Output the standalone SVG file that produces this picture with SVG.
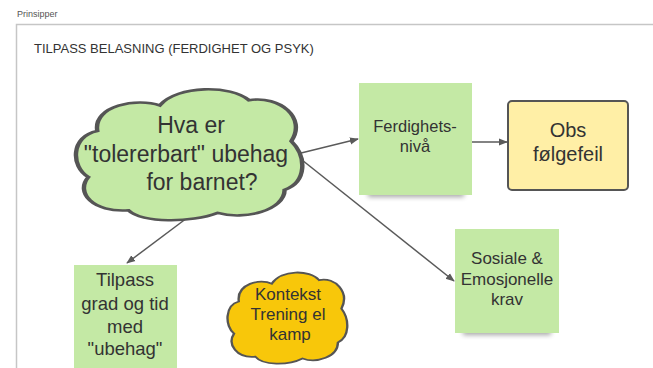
<svg xmlns="http://www.w3.org/2000/svg" width="653" height="368" viewBox="0 0 653 368">
  <style>
    .txt { font-family: "Liberation Sans", Arial, sans-serif; fill: #333333; text-anchor: middle; }
    .sticky { fill: #c4e9a5; }
    .cloud { stroke: #555555; stroke-width: 2; vector-effect: non-scaling-stroke; }
    .edge { stroke: #5a5a5a; stroke-width: 1.5; fill: none; marker-end: url(#arrow); }
    .shade { fill: #000000; opacity: 0.35; filter: url(#soft); }
  </style>
  <defs>
    <marker id="arrow" viewBox="0 0 10 10" refX="9" refY="5" markerWidth="9" markerHeight="9" markerUnits="userSpaceOnUse" orient="auto">
      <path d="M0,1 L10,5 L0,9 Z" fill="#5a5a5a"/>
    </marker>
    <filter id="soft" x="-20%" y="-50%" width="140%" height="200%">
      <feGaussianBlur stdDeviation="2.5"/>
    </filter>
    <!-- cloud outline in a 100x100 unit box -->
    <path id="cloudShape" d="M 10 32 C 8 12, 28 6, 38 12 C 46 -4, 70 -4, 78 8 C 92 4, 104 22, 97 40 C 104 52, 104 72, 94 78 C 94 94, 76 102, 64 96 C 52 104, 30 104, 24 94 C 8 96, 0 80, 6 68 C -2 60, -2 36, 10 32 Z"/>
  </defs>

  <rect width="653" height="368" fill="#ffffff"/>

  <!-- container frame -->
  <g id="frame">
    <text x="17" y="17" style="font-family:'Liberation Sans', Arial, sans-serif; font-size:9px; fill:#555555">Prinsipper</text>
    <rect x="16.5" y="24.5" width="660" height="360" fill="#ffffff" stroke="#c6c6c6" stroke-width="1.5"/>
    <text x="34" y="53" style="font-family:'Liberation Sans', Arial, sans-serif; font-size:13px; fill:#333333">TILPASS BELASNING (FERDIGHET OG PSYK)</text>
  </g>

  <!-- connectors -->
  <g id="connectors">
    <path class="edge" d="M297,154 L358,139"/>
    <path class="edge" d="M472,142 L507,142"/>
    <path class="edge" d="M297,156 L454,281"/>
    <path class="edge" d="M187,218 L127,263"/>
  </g>

  <g id="question">
    <use href="#cloudShape" class="cloud" fill="#c4e9a5" transform="translate(75,90) scale(2.23,1.28)"/>
    <text class="txt" style="font-size:23px" x="191" y="133">Hva er</text>
    <text class="txt" style="font-size:23px" x="186" y="162">"tolererbart" ubehag</text>
    <text class="txt" style="font-size:23px" x="202" y="190">for barnet?</text>
  </g>

  <g id="ferdighet">
    <rect class="shade" x="368" y="188" width="96" height="9"/>
    <rect class="sticky" x="359" y="83" width="113" height="112"/>
    <text class="txt" style="font-size:16.5px" x="415" y="132">Ferdighets-</text>
    <text class="txt" style="font-size:16.5px" x="415" y="152">nivå</text>
  </g>

  <g id="folgefeil">
    <rect x="508" y="101" width="120" height="89" rx="4" fill="#ffefa6" stroke="#555555" stroke-width="2"/>
    <text class="txt" style="font-size:20px" x="568" y="137">Obs</text>
    <text class="txt" style="font-size:20px" x="568" y="161">følgefeil</text>
  </g>

  <g id="sosiale">
    <rect class="shade" x="463" y="326" width="88" height="9"/>
    <rect class="sticky" x="455" y="229" width="104" height="104"/>
    <text class="txt" style="font-size:17px" x="507" y="264">Sosiale &amp;</text>
    <text class="txt" style="font-size:17px" x="507" y="285">Emosjonelle</text>
    <text class="txt" style="font-size:17px" x="507" y="305">krav</text>
  </g>

  <g id="tilpass">
    <rect class="sticky" x="74" y="265" width="103" height="110"/>
    <text class="txt" style="font-size:18.5px" x="125" y="286">Tilpass</text>
    <text class="txt" style="font-size:18.5px" x="125" y="310">grad og tid</text>
    <text class="txt" style="font-size:18.5px" x="125" y="333">med</text>
    <text class="txt" style="font-size:18.5px" x="125" y="355">"ubehag"</text>
  </g>

  <g id="kontekst">
    <use href="#cloudShape" class="cloud" fill="#f8c70a" transform="translate(227,273) scale(1.18,0.89)"/>
    <text class="txt" style="font-size:17px" x="288" y="300">Kontekst</text>
    <text class="txt" style="font-size:17px" x="288" y="320">Trening el</text>
    <text class="txt" style="font-size:17px" x="290" y="340">kamp</text>
  </g>
</svg>
